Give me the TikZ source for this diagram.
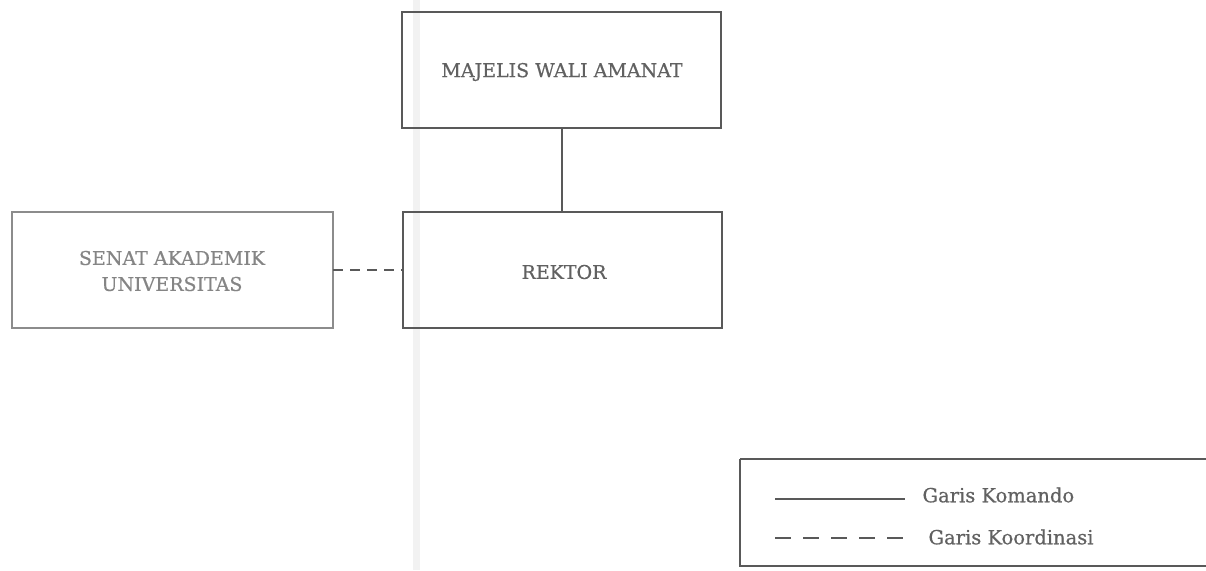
\documentclass[tikz,border=0pt]{standalone}
\usepackage{fontspec}
\setmainfont{DejaVu Serif}
\newfontfamily\fbfont[FakeBold=0.6]{DejaVu Serif}
\begin{document}
\begin{tikzpicture}[x=1pt,y=-1pt,
  box/.style={draw=black!65,line width=1.3pt,inner sep=0pt},
  lbl/.style={text=black!62,font=\fbfont\fontsize{19}{26}\selectfont,align=center},
  lgd/.style={text=black!62,font=\fbfont\fontsize{19.5}{24}\selectfont,anchor=west},
  cmd/.style={draw=black!65,line width=1.3pt},
  crd/.style={draw=black!65,line width=1.3pt,dash pattern=on 10pt off 7pt}]
\useasboundingbox (0,0) rectangle (1206,570);
\fill[black!5] (413,0) rectangle (420,570);
% boxes
\draw[box] (402,12) rectangle (721,128);
\node[lbl] (mwa) at (562,72) {MAJELIS WALI AMANAT};
\coordinate (mwab) at (562,128);
\draw[box] (403,212) rectangle (722,328);
\node[lbl] (rek) at (564,272) {REKTOR};
\coordinate (rekt) at (562,212);
\coordinate (rekl) at (403,270);
\draw[box,draw=black!45] (12,212) rectangle (333,328);
\node[lbl,text=black!48] (sen) at (172,271) {SENAT AKADEMIK\\UNIVERSITAS};
\coordinate (senr) at (333,270);
\draw[cmd] (mwab) -- (rekt);
\draw[crd] (senr) -- (rekl);
% legend
\draw[box] (740,459) -- (1206,459) (740,459) -- (740,566) -- (1206,566);
\coordinate (a1) at (775,499); \coordinate (a2) at (905,499);
\coordinate (b1) at (775,538); \coordinate (b2) at (905,538);
\draw[cmd] (a1) -- (a2);
\draw[crd,dash pattern=on 16pt off 12pt] (b1) -- (b2);
\node[lgd] (k1) at (919,495) {Garis Komando};
\node[lgd] (k2) at (925,537) {Garis Koordinasi};
\end{tikzpicture}
\end{document}
